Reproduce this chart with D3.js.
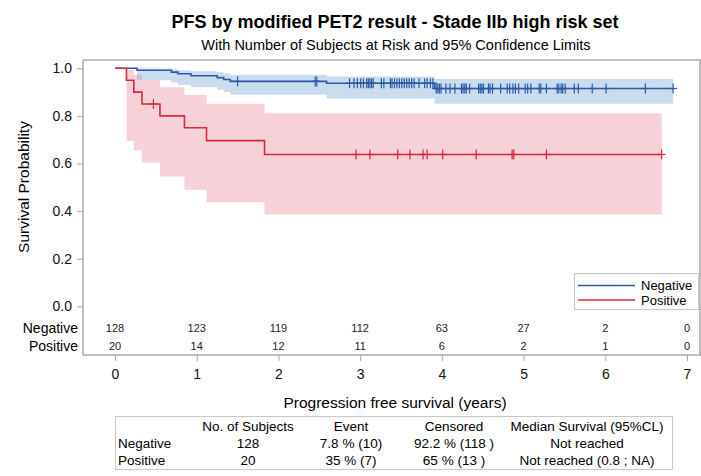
<!DOCTYPE html>
<html><head><meta charset="utf-8">
<script src="https://cdn.jsdelivr.net/npm/d3@7"></script>
<style>
html,body{margin:0;padding:0;background:#fff;}
svg{display:block;font-family:"Liberation Sans",Arial,sans-serif;}
</style></head>
<body>
<svg id="chart" width="701" height="476"></svg>
<script>
// ---- data ----
const xTicks = [0,1,2,3,4,5,6,7];
const yTicks = [0,0.2,0.4,0.6,0.8,1.0];
const groups = ["Negative","Positive"];

const negTimes = [0, 0.27, 0.69, 0.77, 0.93, 1.25, 1.33, 1.41, 2.59, 3.91];
const negSurv  = [1, 0.992, 0.984, 0.977, 0.969, 0.961, 0.953, 0.945, 0.937, 0.915];
const negLower = [1, 0.950, 0.940, 0.930, 0.920, 0.910, 0.900, 0.889, 0.873, 0.851];
const negUpper = [1, 0.999, 0.996, 0.992, 0.988, 0.983, 0.978, 0.973, 0.966, 0.955];
const negCensor = [1.50, 2.45, 2.47, 2.87, 2.925, 2.966, 3.007, 3.04, 3.08, 3.10, 3.12, 3.14, 3.16,
  3.26, 3.29, 3.37, 3.39, 3.42, 3.45, 3.48, 3.51, 3.54, 3.57, 3.60, 3.63, 3.66, 3.72, 3.79, 3.82,
  3.86, 3.89, 3.93, 3.95, 3.97, 3.99, 4.05, 4.10, 4.16, 4.24, 4.26, 4.28, 4.30, 4.34, 4.45, 4.47,
  4.49, 4.51, 4.57, 4.59, 4.62, 4.72, 4.80, 4.83, 4.87, 4.90, 4.94, 5.02, 5.05, 5.09, 5.19, 5.21,
  5.28, 5.41, 5.43, 5.46, 5.48, 5.51, 5.62, 5.67, 5.84, 6.01, 6.49, 6.83];

const posTimes = [0, 0.14, 0.23, 0.33, 0.55, 0.85, 1.12, 1.83];
const posSurv  = [1, 0.95, 0.90, 0.85, 0.80, 0.75, 0.696, 0.638];
const posLower = [1, 0.695, 0.656, 0.604, 0.545, 0.490, 0.437, 0.386];
const posUpper = [1, 0.993, 0.974, 0.950, 0.920, 0.888, 0.851, 0.811];
const posCensor = [0.47, 2.95, 3.12, 3.46, 3.61, 3.77, 3.82, 4.01, 4.42, 4.86, 4.88, 5.28, 6.69];

const negAtRisk = [128,123,119,112,63,27,2,0];
const posAtRisk = [20,14,12,11,6,2,1,0];

const tableHeader = ["", "No. of Subjects", "Event", "Censored", "Median Survival (95%CL)"];
const tableNeg = ["Negative", "128", "7.8 % (10)", "92.2 % (118 )", "Not reached"];
const tablePos = ["Positive", "20", "35 % (7)", "65 % (13 )", "Not reached (0.8 ; NA)"];

// ---- layout ----
const svg = d3.select("#chart");
const x = d3.scaleLinear().domain([0,7]).range([115,687]);
const y = d3.scaleLinear().domain([0,1]).range([306.3,68.3]);
const axisColor = "#a9a9a9";
const blue = "#2a5aa5", red = "#d62a3c";

// titles
svg.append("text").attr("x",395).attr("y",28).attr("text-anchor","middle")
  .attr("font-size",18).attr("font-weight","bold").text("PFS by modified PET2 result - Stade IIb high risk set");
svg.append("text").attr("x",396).attr("y",50).attr("text-anchor","middle")
  .attr("font-size",14.5).text("With Number of Subjects at Risk and 95% Confidence Limits");

// frame
svg.append("line").attr("x1",83).attr("x2",701).attr("y1",60).attr("y2",60).attr("stroke",axisColor).attr("stroke-width",1.5);
svg.append("line").attr("x1",700).attr("x2",700).attr("y1",60).attr("y2",355).attr("stroke",axisColor).attr("stroke-width",1.5);

function band(times, lower, upper, censor, bandColor, bandOpacity) {
  const end = censor[censor.length-1];
  const pts = times.map((t,i)=>({t, lo:lower[i], hi:upper[i]}));
  pts.push({t:end, lo:lower[lower.length-1], hi:upper[upper.length-1]});
  svg.append("path").datum(pts)
    .attr("d", d3.area().curve(d3.curveStepAfter).x(d=>x(d.t)).y0(d=>y(d.lo)).y1(d=>y(d.hi)))
    .attr("fill", bandColor).attr("fill-opacity", bandOpacity);
}
function curve(times, surv, censor, lineColor) {
  const end = censor[censor.length-1];
  const pts = times.map((t,i)=>({t, s:surv[i]}));
  pts.push({t:end, s:surv[surv.length-1]});
  svg.append("path").datum(pts)
    .attr("d", d3.line().curve(d3.curveStepAfter).x(d=>x(d.t)).y(d=>y(d.s)))
    .attr("fill","none").attr("stroke",lineColor).attr("stroke-width",1.6);
  const survAt = t => { let s = 1; times.forEach((tt,i)=>{ if (tt <= t) s = surv[i]; }); return s; };
  const g = svg.append("g").attr("stroke",lineColor).attr("stroke-width",1.2);
  censor.forEach(c => {
    const cx = x(c), cy = y(survAt(c));
    g.append("line").attr("x1",cx).attr("x2",cx).attr("y1",cy-5).attr("y2",cy+5);
    g.append("line").attr("x1",cx-4).attr("x2",cx+4).attr("y1",cy).attr("y2",cy);
  });
}
band(posTimes,posLower,posUpper,posCensor,"#e0687f",0.3);
band(negTimes,negLower,negUpper,negCensor,"#7fa7d6",0.4);
curve(negTimes,negSurv,negCensor,blue);
curve(posTimes,posSurv,posCensor,red);

// y axis
const yAxis = svg.append("g").attr("transform","translate(83,0)")
  .call(d3.axisLeft(y).tickValues(yTicks).tickFormat(d3.format(".1f")).tickSize(6).tickSizeOuter(0));
yAxis.select(".domain").remove();
yAxis.selectAll(".tick line").attr("stroke",axisColor);
yAxis.selectAll(".tick text").attr("font-size",14).attr("fill","#111").attr("font-family","Liberation Sans, Arial, sans-serif").attr("dx",-2);
svg.append("line").attr("x1",83).attr("x2",83).attr("y1",60).attr("y2",355).attr("stroke",axisColor).attr("stroke-width",1.5);
svg.append("text").attr("transform","translate(29,187) rotate(-90)").attr("text-anchor","middle")
  .attr("font-size",15.5).text("Survival Probability");

// at risk rows
[["Negative",negAtRisk,333],["Positive",posAtRisk,351]].forEach(([name,vals,yy])=>{
  svg.append("text").attr("x",78).attr("y",yy).attr("text-anchor","end").attr("font-size",14).text(name);
  vals.forEach((v,i)=>{
    svg.append("text").attr("x",x(xTicks[i])).attr("y",yy-1).attr("text-anchor","middle")
      .attr("font-size",11).attr("fill","#222").text(v);
  });
});

// x axis
const xAxis = svg.append("g").attr("transform","translate(0,355)")
  .call(d3.axisBottom(x).tickValues(xTicks).tickFormat(d3.format("d")).tickSize(6).tickSizeOuter(0));
xAxis.select(".domain").remove();
xAxis.selectAll(".tick line").attr("stroke",axisColor);
xAxis.selectAll(".tick text").attr("font-size",14).attr("fill","#111").attr("font-family","Liberation Sans, Arial, sans-serif").attr("dy","1.05em");
svg.append("line").attr("x1",83).attr("x2",701).attr("y1",355).attr("y2",355).attr("stroke",axisColor).attr("stroke-width",1.5);
svg.append("text").attr("x",395).attr("y",408).attr("text-anchor","middle").attr("font-size",15.5)
  .text("Progression free survival (years)");

// legend
const lg = svg.append("g");
lg.append("rect").attr("x",574.5).attr("y",273.5).attr("width",124).attr("height",36)
  .attr("fill","#fff").attr("stroke","#c8c8c8");
[[groups[0],blue,285.5],[groups[1],red,300]].forEach(([name,col,yy])=>{
  lg.append("line").attr("x1",578).attr("x2",635).attr("y1",yy).attr("y2",yy).attr("stroke",col).attr("stroke-width",1.5);
  lg.append("text").attr("x",641).attr("y",yy+4.5).attr("font-size",13).text(name);
});

// bottom table
svg.append("rect").attr("x",115.5).attr("y",416.5).attr("width",557).attr("height",53)
  .attr("fill","none").attr("stroke","#c8c8c8");
const colX = [118,248,351,454,587];
[[tableHeader,431],[tableNeg,448],[tablePos,465]].forEach(([row,yy])=>{
  row.forEach((txt,i)=>{
    svg.append("text").attr("x",colX[i]).attr("y",yy)
      .attr("text-anchor", i===0 ? "start" : "middle").attr("font-size",13.5).text(txt);
  });
});
</script>
</body></html>
